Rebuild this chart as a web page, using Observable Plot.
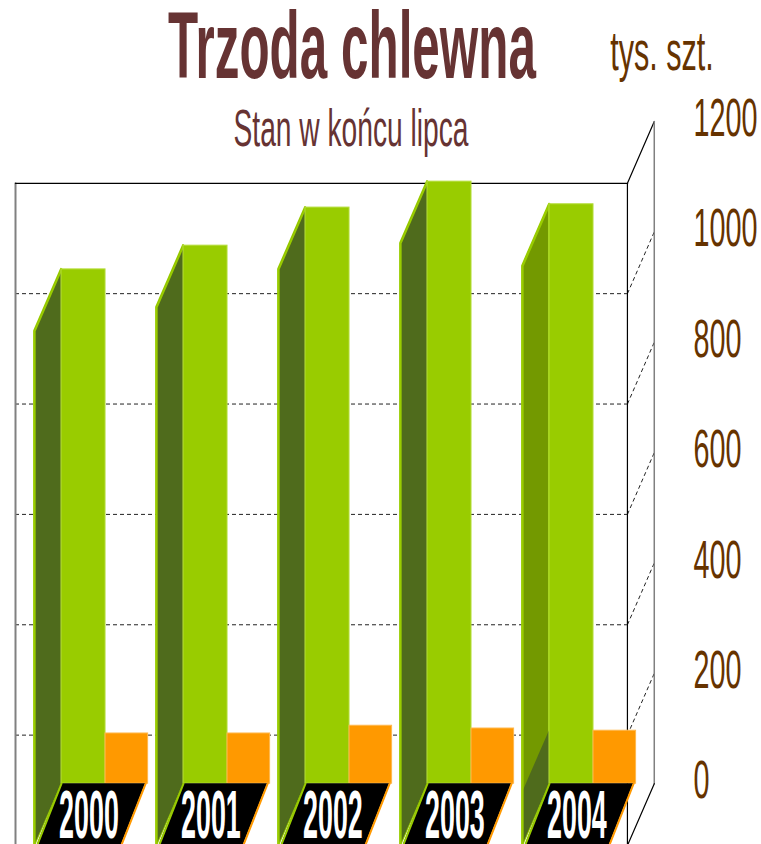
<!DOCTYPE html>
<html><head><meta charset="utf-8">
<script src="https://cdn.jsdelivr.net/npm/d3@7"></script>
<script src="https://cdn.jsdelivr.net/npm/@observablehq/plot@0.6"></script>
<style>
html,body{margin:0;padding:0;background:#fff;overflow:hidden;width:761px;height:844px}
#head{position:relative;height:80px;width:761px;font-family:"Liberation Sans",Arial,sans-serif}
#head div{position:absolute;white-space:nowrap;line-height:1;z-index:2}
#head #title{left:351.5px;top:7px;font-size:95px;line-height:.8;font-weight:bold;color:#663333;transform:translateX(-50%) scaleX(.52)}
#sub{left:351px;top:102px;font-size:52px;color:#663333;transform:translateX(-50%) scaleX(.542)}
#unit{left:662px;top:23px;font-size:56px;color:#663300;transform:translateX(-50%) scaleX(.546)}
#chart svg{display:block}
</style></head><body>
<div id="head"><div id="title">Trzoda chlewna</div><div id="unit">tys. szt.</div><div id="sub">Stan w końcu lipca</div></div>
<div id="chart"></div>
<script>
const years = ["2000","2001","2002","2003","2004"];
const greenValues = [932,975,1044,1091,1050];
const orangeValues = [91,91,105,100,96];
const darkSideTop = [932,975,1044,1091,96];
const ticks = [0,200,400,600,800,1000,1200];
const gridTicks = [200,400,600,800,1000];

const depthY = 112, depthX = .22;
const greenW = .361, barW = .71;
const wallL = -.377, wallR = 4.639;
const idx = years.map((_, i) => i);

const sideRows = (vals) => idx.flatMap(i => [
  {year: years[i], x: i - depthX, y1: -depthY, y2: vals[i] - depthY},
  {year: years[i], x: i, y1: 0, y2: vals[i]}
]);
const floorRows = idx.flatMap(i => [
  {year: years[i], y: -depthY, x1: i - depthX + .02, x2: i + barW - depthX},
  {year: years[i], y: 0, x1: i, x2: i + barW - .02}
]);
const wallRight = wallR + depthX;
const line = (pts, o) => Plot.line(pts, {x: d => d[0], y: d => d[1], ...o});

const plot = Plot.plot({
  width: 761, height: 765, margin: 0,
  x: {domain: [-.5, 5.738], axis: null},
  y: {domain: [-112, 1274.3], axis: null},
  marks: [
    // grid on the front plane and right wall
    Plot.ruleY(gridTicks, {x1: wallL, x2: wallR, y: d => d - depthY, stroke: "#222", strokeWidth: 1, strokeDasharray: "4,3"}),
    Plot.link(gridTicks, {x1: wallR, x2: wallRight, y1: d => d - depthY, y2: d => d, stroke: "#222", strokeWidth: 1, strokeDasharray: "4,3"}),
    line([[wallL,-depthY],[wallL,1200-depthY]], {stroke: "#808080", strokeWidth: 2}),
    line([[wallL,1200-depthY],[wallR,1200-depthY],[wallRight,1200]], {stroke: "#000", strokeWidth: 1.2}),
    line([[wallR,-depthY],[wallR,1200-depthY]], {stroke: "#000", strokeWidth: 1.2}),
    line([[wallRight,0],[wallRight,1200]], {stroke: "#808080", strokeWidth: 1.5}),
    line([[wallR,-depthY],[wallRight,0]], {stroke: "#000", strokeWidth: 1.2}),
    // bar side faces
    Plot.area(sideRows(greenValues), {x1: "x", y1: "y1", y2: "y2", z: "year", fill: "#739900", stroke: "#99cc00", strokeWidth: 2}),
    Plot.area(sideRows(darkSideTop), {x1: "x", y1: "y1", y2: "y2", z: "year", fill: "#4f6b1c"}),
    line(sideRows(greenValues).filter(d => d.y1 === -depthY).flatMap(d => [[d.x, d.y1],[d.x, d.y2],[d.x + depthX, d.y2 + depthY]]).map((p, k) => [...p, Math.floor(k / 3)]), {z: d => d[2], stroke: "#99cc00", strokeWidth: 2}),
    // bar faces
    Plot.rect(idx, {x1: i => i, x2: i => i + greenW, y1: 0, y2: i => greenValues[i], fill: "#99cc00", stroke: "#b5dd3c", strokeWidth: 1}),
    Plot.rect(idx, {x1: i => i + greenW, x2: i => i + barW, y1: 0, y2: i => orangeValues[i], fill: "#ff9900", stroke: "#ffb84d", strokeWidth: 1}),
    // floor with year plates
    Plot.area(floorRows, {x1: "x1", x2: "x2", y1: "y", z: "year", fill: "#000"}),
    Plot.line(floorRows, {x: "x1", y: "y", z: "year", stroke: "#99cc00", strokeWidth: 2}),
    Plot.line(floorRows, {x: "x2", y: "y", z: "year", stroke: "#ff9900", strokeWidth: 2}),
    Plot.text(years, {className: "yr", x: (d, i) => i + barW / 2 - depthX / 2 - .02, y: -depthY / 2 - 3, text: d => d,
      fill: "#fff", fontSize: 68, fontWeight: "bold", fontFamily: "Liberation Sans", textAnchor: "middle", lineAnchor: "middle"}),
    Plot.text(ticks, {className: "tk", x: 5.18, y: d => d + 5, text: d => String(d),
      fill: "#663300", fontSize: 54, fontFamily: "Liberation Sans", textAnchor: "start", lineAnchor: "middle"})
  ]
});
const squeeze = (sel, s) => plot.querySelectorAll(sel).forEach(t => {
  t.setAttribute("transform", (t.getAttribute("transform") || "") + ` scale(${s},1)`);
});
squeeze("g.yr text", .395);
squeeze("g.tk text", .533);
document.getElementById("chart").append(plot);
</script>
</body></html>
